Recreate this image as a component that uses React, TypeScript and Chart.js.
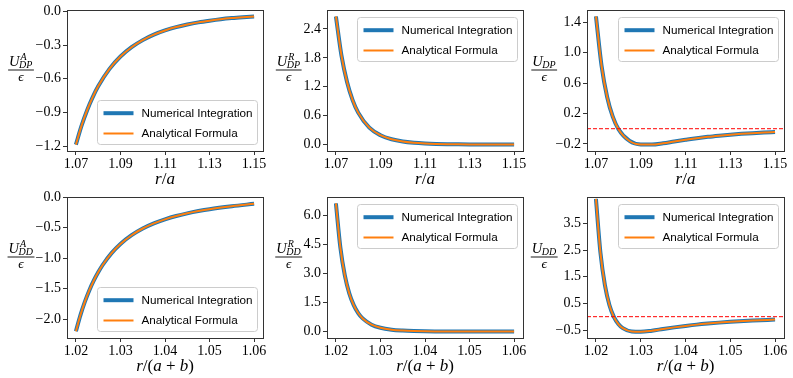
import React, { useEffect, useRef } from 'react';
import { Chart, registerables } from 'chart.js';

Chart.register(...registerables);

// ---------- data ----------
const rOverA = [1.07, 1.0725, 1.075, 1.0775, 1.08, 1.085, 1.09, 1.095, 1.1, 1.105, 1.11, 1.115, 1.12, 1.125, 1.13, 1.135, 1.14, 1.145, 1.15];
const uDPAttractive = [-1.185, -1.019, -0.881, -0.765, -0.667, -0.514, -0.402, -0.319, -0.256, -0.207, -0.17, -0.14, -0.117, -0.098, -0.083, -0.07, -0.06, -0.052, -0.045];
const uDPRepulsive = [2.66, 1.846, 1.298, 0.923, 0.664, 0.353, 0.195, 0.111, 0.065, 0.039, 0.024, 0.015, 0.0098, 0.0064, 0.0043, 0.0029, 0.002, 0.0014, 0.001];
const uDPTotal = [1.475, 0.827, 0.417, 0.158, -0.003, -0.161, -0.207, -0.208, -0.191, -0.168, -0.146, -0.125, -0.107, -0.092, -0.0785, -0.0675, -0.0582, -0.0504, -0.0437];

const rOverAB = [1.02, 1.021, 1.022, 1.023, 1.024, 1.025, 1.026, 1.028, 1.03, 1.0325, 1.035, 1.0375, 1.04, 1.0425, 1.045, 1.0475, 1.05, 1.055, 1.06];
const uDDAttractive = [-2.2, -1.938, -1.717, -1.529, -1.37, -1.232, -1.112, -0.917, -0.766, -0.623, -0.513, -0.429, -0.363, -0.308, -0.264, -0.227, -0.196, -0.148, -0.108];
const uDDRepulsive = [6.62, 4.34, 2.9, 1.97, 1.364, 0.957, 0.681, 0.358, 0.197, 0.098, 0.052, 0.028, 0.016, 0.0097, 0.0059, 0.0037, 0.0024, 0.001, 0.0005];
const uDDTotal = [4.42, 2.402, 1.183, 0.441, -0.006, -0.275, -0.431, -0.559, -0.569, -0.525, -0.461, -0.401, -0.347, -0.298, -0.258, -0.223, -0.194, -0.147, -0.1075];

const xTicksA = [1.07, 1.09, 1.11, 1.13, 1.15];
const xTicksAB = [1.02, 1.03, 1.04, 1.05, 1.06];
const yTicksDPAttractive = [-1.2, -0.9, -0.6, -0.3, 0.0];
const yTicksDPRepulsive = [0.0, 0.6, 1.2, 1.8, 2.4];
const yTicksDPTotal = [-0.2, 0.2, 0.6, 1.0, 1.4];
const yTicksDDAttractive = [-2.0, -1.5, -1.0, -0.5, 0.0];
const yTicksDDRepulsive = [0.0, 1.5, 3.0, 4.5, 6.0];
const yTicksDDTotal = [-0.5, 0.5, 1.5, 2.5, 3.5];

const seriesNames = ['Numerical Integration', 'Analytical Formula'];

// ---------- layout ----------
const COLS = [
  { left: 0, width: 272, areaL: 67, areaR: 263, labelCx: 21 },
  { left: 262, width: 272, areaL: 327, areaR: 523, labelCx: 288.7 },
  { left: 522, width: 271, areaL: 587, areaR: 784, labelCx: 544.2 },
];
const ROWS = [
  { top: 0, height: 190, areaT: 10, areaB: 151 },
  { top: 190, height: 188, areaT: 197, areaB: 338 },
];

type Spec = {
  row: number; col: number;
  xs: number[]; ys: number[];
  xTicks: number[]; yTicks: number[];
  xRange: [number, number]; yRange: [number, number];
  sup: string; sub: string; xlabel: 'a' | 'ab';
  legend: 'lr' | 'ur'; zero: boolean;
};

const PANELS: Spec[] = [
  { row: 0, col: 0, xs: rOverA, ys: uDPAttractive, xTicks: xTicksA, yTicks: yTicksDPAttractive, xRange: [1.066, 1.154], yRange: [-1.242, 0.012], sup: 'A', sub: 'DP', xlabel: 'a', legend: 'lr', zero: false },
  { row: 0, col: 1, xs: rOverA, ys: uDPRepulsive, xTicks: xTicksA, yTicks: yTicksDPRepulsive, xRange: [1.066, 1.154], yRange: [-0.132, 2.793], sup: 'R', sub: 'DP', xlabel: 'a', legend: 'ur', zero: false },
  { row: 0, col: 2, xs: rOverA, ys: uDPTotal, xTicks: xTicksA, yTicks: yTicksDPTotal, xRange: [1.066, 1.154], yRange: [-0.2927, 1.559], sup: '', sub: 'DP', xlabel: 'a', legend: 'ur', zero: true },
  { row: 1, col: 0, xs: rOverAB, ys: uDDAttractive, xTicks: xTicksAB, yTicks: yTicksDDAttractive, xRange: [1.018, 1.062], yRange: [-2.31, 0.004], sup: 'A', sub: 'DD', xlabel: 'ab', legend: 'lr', zero: false },
  { row: 1, col: 1, xs: rOverAB, ys: uDDRepulsive, xTicks: xTicksAB, yTicks: yTicksDDRepulsive, xRange: [1.018, 1.062], yRange: [-0.331, 6.951], sup: 'R', sub: 'DD', xlabel: 'ab', legend: 'ur', zero: false },
  { row: 1, col: 2, xs: rOverAB, ys: uDDTotal, xTicks: xTicksAB, yTicks: yTicksDDTotal, xRange: [1.018, 1.062], yRange: [-0.8, 4.49], sup: '', sub: 'DD', xlabel: 'ab', legend: 'ur', zero: true },
];

const SERIF = '"Liberation Serif", "Times New Roman", serif';
const SANS = '"Liberation Sans", Arial, sans-serif';
const BLUE = '#1f77b4';
const ORANGE = '#ff7f0e';

function fmt(v: number, d: number) {
  const s = Math.abs(v).toFixed(d);
  return v < -1e-9 ? '\u2212' + s : s;
}

function drawFraction(ctx: CanvasRenderingContext2D, cx: number, barY: number, sup: string, sub: string) {
  ctx.save();
  ctx.fillStyle = '#000';
  ctx.textBaseline = 'alphabetic';
  ctx.textAlign = 'left';
  const fU = `italic 14.5px ${SERIF}`;
  const fS = `italic 10px ${SERIF}`;
  ctx.font = fU;
  const wU = ctx.measureText('U').width;
  ctx.font = fS;
  const wSup = sup ? ctx.measureText(sup).width + 1 : 0;
  const wSub = ctx.measureText(sub).width;
  const w = wU + Math.max(wSup, wSub);
  const x0 = cx - w / 2;
  ctx.font = fU;
  ctx.fillText('U', x0, barY - 4);
  ctx.font = fS;
  if (sup) ctx.fillText(sup, x0 + wU + 1, barY - 10);
  ctx.fillText(sub, x0 + wU - 0.5, barY - 1.8);
  ctx.fillRect(cx - w / 2 - 1, barY - 0.45, w + 2, 0.9);
  ctx.font = `italic 13.5px ${SERIF}`;
  ctx.textAlign = 'center';
  ctx.fillText('\u03f5', cx, barY + 10.5);
  ctx.restore();
}

function drawXTitle(ctx: CanvasRenderingContext2D, cx: number, baseY: number, kind: 'a' | 'ab') {
  const parts: [string, boolean][] = kind === 'a'
    ? [['r', true], ['/', false], ['a', true]]
    : [['r', true], ['/', false], ['(', false], ['a', true], [' + ', false], ['b', true], [')', false]];
  ctx.save();
  ctx.fillStyle = '#000';
  ctx.textBaseline = 'alphabetic';
  ctx.textAlign = 'left';
  const fontFor = (it: boolean) => `${it ? 'italic ' : ''}17px ${SERIF}`;
  let total = 0;
  const widths = parts.map(([t, it]) => { ctx.font = fontFor(it); const w = ctx.measureText(t).width; total += w; return w; });
  let x = cx - total / 2;
  parts.forEach(([t, it], i) => { ctx.font = fontFor(it); ctx.fillText(t, x, baseY); x += widths[i]; });
  ctx.restore();
}

function drawLegend(ctx: CanvasRenderingContext2D, area: any, pos: 'lr' | 'ur') {
  const W = 160, H = 44;
  const bx = Math.round(area.right - 6.5 - W) + 0.5;
  const by = Math.round(pos === 'lr' ? area.bottom - 7.5 - H : area.top + 7.3) + 0.5;
  ctx.save();
  ctx.beginPath();
  (ctx as any).roundRect(bx, by, W, H, 3);
  ctx.fillStyle = 'rgba(255,255,255,0.8)';
  ctx.fill();
  ctx.strokeStyle = '#cccccc';
  ctx.lineWidth = 1;
  ctx.stroke();
  const rows = [by + 12.7, by + 33];
  const hx0 = bx + 6, hx1 = bx + 36;
  ctx.lineCap = 'butt';
  ctx.strokeStyle = BLUE; ctx.lineWidth = 4;
  ctx.beginPath(); ctx.moveTo(hx0, rows[0]); ctx.lineTo(hx1, rows[0]); ctx.stroke();
  ctx.strokeStyle = ORANGE; ctx.lineWidth = 2;
  ctx.beginPath(); ctx.moveTo(hx0, rows[1]); ctx.lineTo(hx1, rows[1]); ctx.stroke();
  ctx.fillStyle = '#000';
  ctx.font = `11.7px ${SANS}`;
  ctx.textBaseline = 'middle';
  ctx.textAlign = 'left';
  ctx.fillText(seriesNames[0], bx + 44, rows[0] + 0.5);
  ctx.fillText(seriesNames[1], bx + 44, rows[1] + 0.5);
  ctx.restore();
}

function buildConfig(p: Spec): any {
  const col = COLS[p.col];
  const row = ROWS[p.row];
  const areaL = col.areaL - col.left;
  const areaR = col.areaR - col.left;
  const areaT = row.areaT - row.top;
  const areaB = row.areaB - row.top;
  const pts = p.xs.map((x, i) => ({ x, y: p.ys[i] }));
  const datasets: any[] = [
    { label: seriesNames[0], data: pts, borderColor: BLUE, backgroundColor: BLUE, borderWidth: 4, pointRadius: 0, cubicInterpolationMode: 'monotone', order: 2 },
    { label: seriesNames[1], data: pts, borderColor: ORANGE, backgroundColor: ORANGE, borderWidth: 2, pointRadius: 0, cubicInterpolationMode: 'monotone', order: 1 },
  ];
  if (p.zero) {
    datasets.push({ label: 'zero', data: [{ x: p.xRange[0], y: 0 }, { x: p.xRange[1], y: 0 }], borderColor: '#ff0000', borderWidth: 1, borderDash: [4, 2], pointRadius: 0, order: 0 });
  }
  const tickFont = { family: SERIF, size: 14 };
  const decor = {
    id: 'decor',
    afterDraw(chart: any) {
      const ctx: CanvasRenderingContext2D = chart.ctx;
      const a = chart.chartArea;
      ctx.save();
      ctx.strokeStyle = '#333';
      ctx.lineWidth = 1;
      ctx.strokeRect(Math.round(a.left) + 0.5, Math.round(a.top) + 0.5, Math.round(a.right - a.left), Math.round(a.bottom - a.top));
      ctx.restore();
      drawLegend(ctx, a, p.legend);
      drawFraction(ctx, col.labelCx - col.left, (a.top + a.bottom) / 2 - 10.5, p.sup, p.sub);
      drawXTitle(ctx, (a.left + a.right) / 2, a.bottom + 33, p.xlabel);
    },
  };
  return {
    type: 'line',
    data: { datasets },
    options: {
      animation: false,
      responsive: false,
      maintainAspectRatio: false,
      devicePixelRatio: 1,
      events: [],
      layout: { padding: { left: 0, top: areaT, right: col.width - areaR, bottom: 0 } },
      plugins: { legend: { display: false }, tooltip: { enabled: false } },
      scales: {
        x: {
          type: 'linear',
          min: p.xRange[0],
          max: p.xRange[1],
          afterBuildTicks: (s: any) => { s.ticks = p.xTicks.map((v) => ({ value: v })); },
          afterFit: (s: any) => { s.height = row.height - areaB; s.paddingLeft = 0; s.paddingRight = 0; },
          ticks: { callback: (v: number) => fmt(v, 2), font: tickFont, color: '#000', padding: 1, maxRotation: 0, minRotation: 0, autoSkip: false },
          grid: { display: true, drawOnChartArea: false, drawTicks: true, tickLength: 4, color: '#333', lineWidth: 1 },
          border: { display: false },
        },
        y: {
          type: 'linear',
          min: p.yRange[0],
          max: p.yRange[1],
          afterBuildTicks: (s: any) => { s.ticks = p.yTicks.map((v) => ({ value: v })); },
          afterFit: (s: any) => { s.width = areaL; s.paddingTop = 0; s.paddingBottom = 0; },
          ticks: { callback: (v: number) => fmt(v, 1), font: tickFont, color: '#000', padding: 2, autoSkip: false },
          grid: { display: true, drawOnChartArea: false, drawTicks: true, tickLength: 4, color: '#333', lineWidth: 1 },
          border: { display: false },
        },
      },
    },
    plugins: [decor],
  };
}

function Panel({ spec }: { spec: Spec }) {
  const ref = useRef<HTMLCanvasElement>(null);
  const col = COLS[spec.col];
  const row = ROWS[spec.row];
  useEffect(() => {
    const chart = new Chart(ref.current as HTMLCanvasElement, buildConfig(spec));
    return () => chart.destroy();
  }, [spec]);
  return (
    <canvas
      ref={ref}
      width={col.width}
      height={row.height}
      style={{ position: 'absolute', left: col.left, top: row.top, width: col.width, height: row.height }}
    />
  );
}

export default function App() {
  return (
    <div style={{ position: 'absolute', left: 0, top: 0, width: 793, height: 378, background: '#fff', overflow: 'hidden' }}>
      {PANELS.map((p, i) => <Panel key={i} spec={p} />)}
    </div>
  );
}
